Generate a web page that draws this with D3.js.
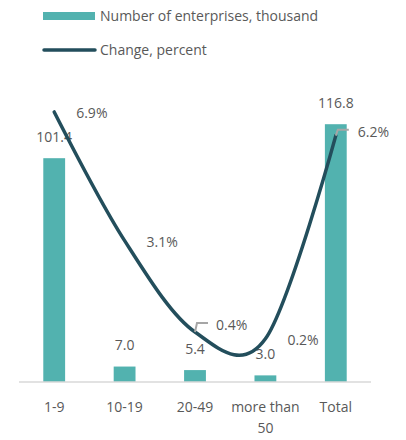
<!DOCTYPE html>
<html>
<head>
<meta charset="utf-8">
<script src="https://cdn.jsdelivr.net/npm/d3@7"></script>
<style>
  html, body { margin: 0; padding: 0; background: #fff; }
  svg { display: block; font-family: "Open Sans", "Noto Sans", sans-serif; }
</style>
</head>
<body>
<svg id="chart" width="406" height="440"></svg>
<script>
// Enterprises by size class
const categories = ["1-9", "10-19", "20-49", "more than 50", "Total"];
const enterprises = [101.4, 7.0, 5.4, 3.0, 116.8];       // thousand
const changePct = [6.9, 3.1, 0.4, 0.2, 6.2];             // percent
const seriesNames = ["Number of enterprises, thousand", "Change, percent"];

const W = 406, H = 440;
const margin = { top: 73, right: 35, bottom: 58, left: 19 };
const barColor = "#52B2AF";
const lineColor = "#234E5C";
const textColor = "#595959";

const svg = d3.select("#chart");

const x = d3.scaleBand()
  .domain(categories)
  .range([margin.left, W - margin.right])
  .paddingInner(0.69)
  .paddingOuter(0.345);

const y = d3.scaleLinear().domain([0, 140]).range([H - margin.bottom, margin.top]);
const y2 = d3.scaleLinear().domain([-1.075, 8.05]).range([H - margin.bottom, margin.top]);

// Legend
const legend = svg.append("g");
legend.append("rect").attr("x", 43).attr("y", 12).attr("width", 52).attr("height", 8).attr("fill", barColor);
legend.append("text").attr("x", 100).attr("y", 16).attr("dy", "0.35em")
  .attr("font-size", 14).attr("fill", textColor).text(seriesNames[0]);
legend.append("line").attr("x1", 44).attr("x2", 95).attr("y1", 50).attr("y2", 50)
  .attr("stroke", lineColor).attr("stroke-width", 3.5).attr("stroke-linecap", "round");
legend.append("text").attr("x", 100).attr("y", 50).attr("dy", "0.35em")
  .attr("font-size", 14).attr("fill", textColor).text(seriesNames[1]);

// Bars
svg.append("g").selectAll("rect")
  .data(enterprises)
  .join("rect")
  .attr("x", (d, i) => x(categories[i]))
  .attr("y", d => y(d))
  .attr("width", x.bandwidth())
  .attr("height", d => y(0) - y(d))
  .attr("fill", barColor);

// Bar value labels
svg.append("g").selectAll("text")
  .data(enterprises)
  .join("text")
  .attr("x", (d, i) => x(categories[i]) + x.bandwidth() / 2)
  .attr("y", d => y(d) - 21)
  .attr("dy", "0.35em")
  .attr("text-anchor", "middle")
  .attr("font-size", 14)
  .attr("fill", textColor)
  .text(d => d.toFixed(1));

// Category axis
const xAxis = svg.append("g")
  .attr("transform", `translate(0,${y(0)})`)
  .call(d3.axisBottom(x).tickSize(0).tickPadding(0).tickFormat(""));
xAxis.select(".domain").attr("stroke", "#D9D9D9").attr("stroke-width", 1.5)
  .attr("d", `M${margin.left},0H${W - margin.right}`);

const catLabels = svg.append("g").selectAll("text")
  .data(categories)
  .join("text")
  .attr("x", d => x(d) + x.bandwidth() / 2)
  .attr("y", y(0) + 25)
  .attr("dy", "0.35em")
  .attr("text-anchor", "middle")
  .attr("font-size", 14)
  .attr("fill", textColor);
catLabels.each(function (d) {
  const t = d3.select(this);
  const parts = d === "more than 50" ? ["more than", "50"] : [d];
  parts.forEach((p, k) => {
    t.append("tspan").attr("x", x(d) + x.bandwidth() / 2).attr("dy", k === 0 ? "0.35em" : 21).text(p);
  });
});

// Change line (smoothed)
const pts = changePct.map((v, i) => [x(categories[i]) + x.bandwidth() / 2, y2(v)]);
svg.append("path")
  .datum(pts)
  .attr("fill", "none")
  .attr("stroke", lineColor)
  .attr("stroke-width", 3.5)
  .attr("stroke-linecap", "round")
  .attr("d", d3.line().curve(d3.curveCatmullRom.alpha(0)));

// Percent labels, some moved with a leader line
const moved = { 2: { dx: 21, dy: -7, ly: -9 }, 4: { dx: 22, dy: -4, ly: -6 } };
const lbl = svg.append("g");
pts.forEach((p, i) => {
  const m = moved[i];
  if (m) {
    lbl.append("path")
      .attr("d", `M${p[0]},${p[1]}L${p[0] + 2},${p[1] + m.ly}H${p[0] + 13}`)
      .attr("fill", "none").attr("stroke", "#A6A6A6").attr("stroke-width", 2);
  }
  lbl.append("text")
    .attr("x", p[0] + (m ? m.dx : 22))
    .attr("y", p[1] + (m ? m.dy : 1))
    .attr("dy", "0.35em")
    .attr("font-size", 14)
    .attr("fill", textColor)
    .text(changePct[i].toFixed(1) + "%");
});
</script>
</body>
</html>
